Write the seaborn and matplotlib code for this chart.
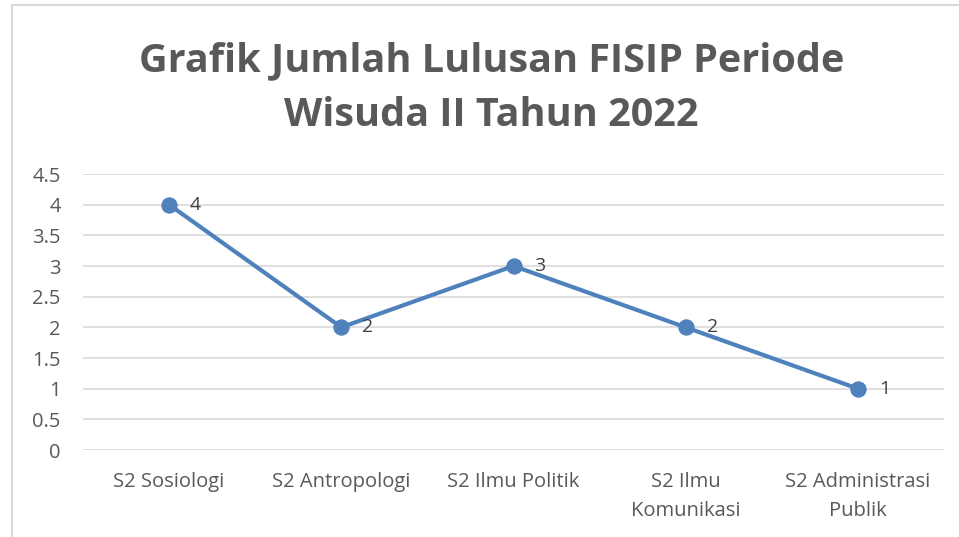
import numpy as np
import pandas as pd
import matplotlib.pyplot as plt
import seaborn as sns
from matplotlib.patches import Rectangle

programs = ['S2 Sosiologi', 'S2 Antropologi', 'S2 Ilmu Politik',
            'S2 Ilmu\nKomunikasi', 'S2 Administrasi\nPublik']
graduates = [4, 2, 3, 2, 1]
yticks = [0, 0.5, 1, 1.5, 2, 2.5, 3, 3.5, 4, 4.5]

sns.set_style('white')
plt.rcParams['font.family'] = ['Open Sans', 'DejaVu Sans']

grey = '#595959'
blue = '#4F81BD'

df = pd.DataFrame({'program': programs, 'lulusan': graduates})

fig = plt.figure(figsize=(9.59, 5.37), dpi=100)
ax = fig.add_axes([83/959, 1 - 450/537, (944 - 83)/959, (450 - 174)/537])

sns.lineplot(data=df, x='program', y='lulusan', sort=False, ax=ax,
             color=blue, linewidth=3, marker='o', markersize=11,
             markeredgecolor=blue, markerfacecolor=blue)

for i, v in enumerate(graduates):
    ax.annotate(str(v), (i, v), xytext=(15, 0), textcoords='offset points',
                va='center', ha='left', fontsize=14, color='#404040')

ax.set_xlim(-0.5, len(programs) - 0.5)
ax.set_ylim(0, 4.5)
ax.set_yticks(yticks)
ax.set_yticklabels([f'{t:g}' for t in yticks])
ax.grid(axis='y', color='#D9D9D9', linewidth=1.2)
ax.grid(axis='x', visible=False)
ax.set_axisbelow(True)
for s in ax.spines.values():
    s.set_visible(False)
ax.tick_params(axis='both', length=0, labelsize=14.5, labelcolor=grey)
ax.tick_params(axis='y', pad=16)
ax.tick_params(axis='x', pad=16)
for lbl in ax.get_xticklabels():
    lbl.set_linespacing(1.6)
ax.set_xlabel('')
ax.set_ylabel('')

fig.text(0.5125, 1 - 88/537, 'Grafik Jumlah Lulusan FISIP Periode\nWisuda II Tahun 2022',
         ha='center', va='center', fontsize=28.5, fontweight='bold', color=grey,
         linespacing=1.5)

fig.patches.append(Rectangle((12/959, -0.1), 1.2, 1 - 5/537 + 0.1,
                             transform=fig.transFigure, fill=False,
                             edgecolor='#D9D9D9', linewidth=1.5))

fig.savefig('out.png', dpi=100)
